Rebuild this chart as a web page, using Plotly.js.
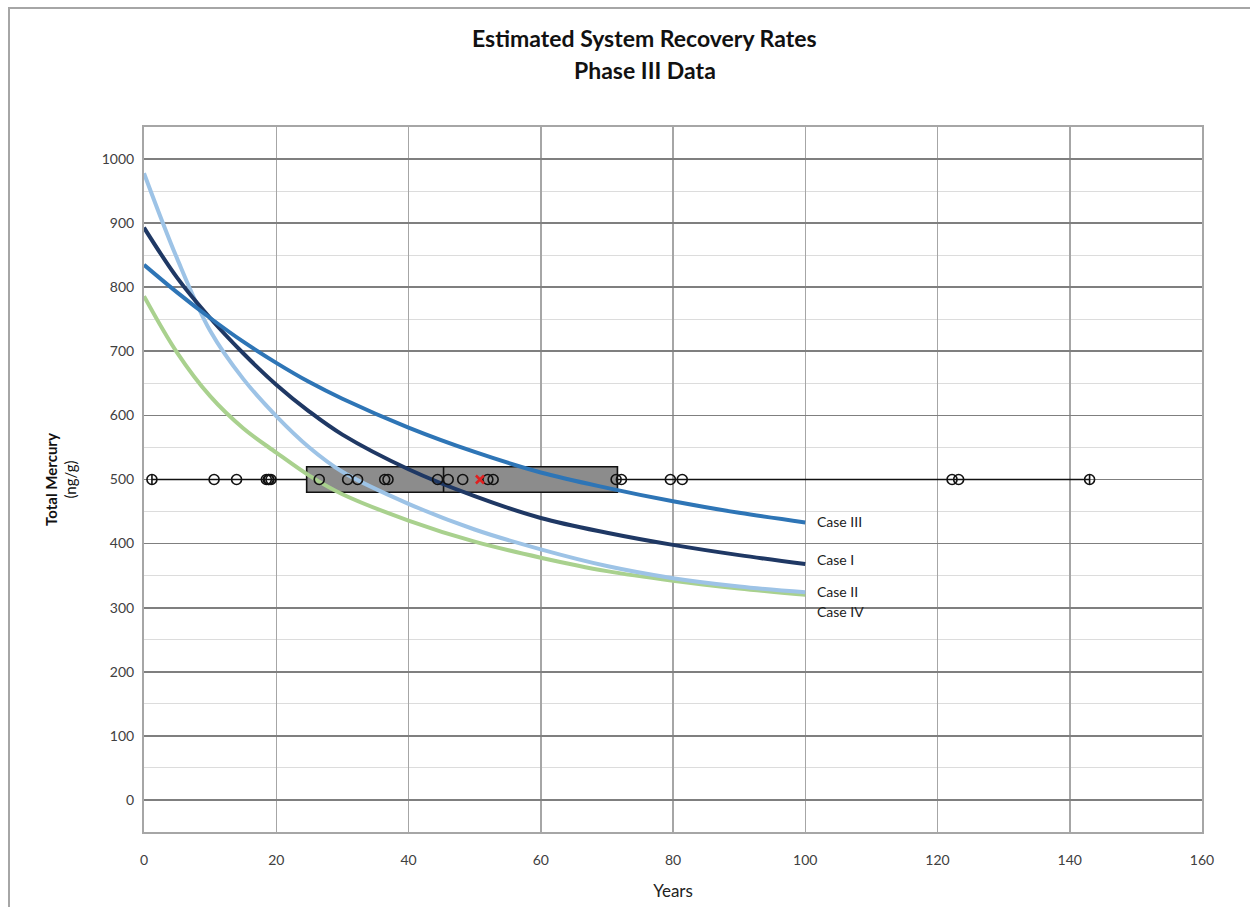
<!DOCTYPE html>
<html>
<head>
<meta charset="utf-8">
<script src="https://cdn.plot.ly/plotly-3.0.1.min.js"></script>
<style>
html,body{margin:0;padding:0;background:#fff;}
#chart{width:1250px;height:907px;position:relative;}
#frame{position:absolute;left:8px;top:7px;width:1250px;height:910px;border-top:2px solid #a6a6a6;border-left:2px solid #a6a6a6;pointer-events:none;}
</style>
</head>
<body>
<div id="chart"></div>
<div id="frame"></div>
<script>
// Curve sample years
const years = [0, 5, 10, 15, 20, 25, 30, 40, 50, 60, 70, 80, 90, 100];
const caseI   = [893, 815, 752, 697, 648, 606, 570, 516, 474, 440, 417, 398, 382, 368];
const caseII  = [978, 845, 732, 657, 599, 550, 512, 462, 422, 391, 365, 346, 333, 324];
const caseIII = [835, 792, 752, 715, 682, 652, 626, 581, 543, 511, 487, 466, 448, 433];
const caseIV  = [786, 698, 630, 580, 542, 506, 477, 436, 403, 378, 357, 342, 330, 320];

const caseNames  = ["Case I", "Case II", "Case III", "Case IV"];
const caseLabelY = [375, 325, 434, 294];

// Observed recovery times (years) plotted at 500 ng/g
const obsYears = [1.2, 10.6, 14.0, 18.5, 18.8, 18.9, 19.2, 26.5, 30.8, 32.3, 36.4, 36.9,
                  44.4, 46.0, 48.2, 52.0, 52.8, 71.4, 72.2, 79.6, 81.4, 122.2, 123.2, 143.0];
const obsLevel = 500;

// Box-and-whisker statistics
const boxQ1 = [24.6], boxMedian = [45.3], boxQ3 = [71.6];
const boxLow = [1.2], boxHigh = [143.0], boxMean = [50.8];

const titleLines = ["Estimated System Recovery Rates", "Phase III Data"];

const colors = ["#1f3864", "#9dc3e6", "#2e75b6", "#a9d18e"];
const series = [caseI, caseII, caseIII, caseIV];

const FONT = "Lato, 'Open Sans', sans-serif";
const traces = [];

traces.push({
  type: "box", orientation: "h",
  y: [obsLevel],
  q1: boxQ1, median: boxMedian, q3: boxQ3,
  lowerfence: boxLow, upperfence: boxHigh,
  width: 40, whiskerwidth: 0.35,
  fillcolor: "#8c8c8c",
  line: {color: "#111", width: 1.6},
  boxpoints: false,
  hoverinfo: "skip", showlegend: false
});

// draw curves in order: IV, II, I, III
[3, 1, 0, 2].forEach(i => {
  traces.push({
    type: "scatter", mode: "lines",
    x: years, y: series[i],
    line: {color: colors[i], width: 4, shape: "spline", smoothing: 1},
    name: caseNames[i], showlegend: false
  });
});

traces.push({
  type: "scatter", mode: "markers",
  x: obsYears, y: obsYears.map(() => obsLevel),
  marker: {symbol: "circle-open", size: 10, color: "#111", line: {width: 1.6, color: "#111"}},
  showlegend: false
});

traces.push({
  type: "scatter", mode: "markers",
  x: boxMean, y: [obsLevel],
  marker: {symbol: "x-thin-open", size: 8, color: "#e02020", line: {width: 2.5, color: "#e02020"}},
  showlegend: false
});

const annotations = caseNames.map((n, i) => ({
  x: years[years.length - 1] + 1.5, y: caseLabelY[i],
  xref: "x", yref: "y", text: n, showarrow: false,
  xanchor: "left", yanchor: "middle",
  font: {family: FONT, size: 14, color: "#222"}
}));

// title lines
const titleY = [1.1262, 1.0809];
titleLines.forEach((t, i) => {
  annotations.push({
    x: 0.4735, y: titleY[i], xref: "paper", yref: "paper",
    text: "<b>" + t + "</b>", showarrow: false,
    xanchor: "center", yanchor: "middle",
    font: {family: FONT, size: 23, color: "#111"}
  });
});

const layout = {
  width: 1250, height: 907,
  margin: {l: 144, r: 48, t: 127, b: 75},
  paper_bgcolor: "#fff", plot_bgcolor: "#fff",
  font: {family: FONT, color: "#404040"},
  xaxis: {
    range: [0, 160], dtick: 20, tick0: 0,
    showgrid: true, gridcolor: "#a6a6a6", gridwidth: 1.5,
    zeroline: false, showline: true, mirror: true, linecolor: "#a6a6a6", linewidth: 2,
    ticks: "", ticklabelstandoff: 14,
    tickfont: {family: FONT, size: 14, color: "#404040"},
    title: {text: "Years", font: {family: FONT, size: 17, color: "#222"}, standoff: 18}
  },
  yaxis: {
    range: [-50, 1050], dtick: 100, tick0: 0,
    showgrid: true, gridcolor: "#7f7f7f", gridwidth: 1.8,
    minor: {dtick: 50, showgrid: true, gridcolor: "#dcdcdc", gridwidth: 1},
    zeroline: false, showline: true, mirror: true, linecolor: "#a6a6a6", linewidth: 2,
    ticks: "", ticklabelstandoff: 5,
    tickvals: [0,100,200,300,400,500,600,700,800,900,1000],
    tickfont: {family: FONT, size: 14, color: "#404040"},
    title: {text: "<b>Total Mercury</b><br>(ng/g)", font: {family: FONT, size: 15, color: "#111"}, standoff: 21}
  },
  annotations: annotations,
  showlegend: false
};

Plotly.newPlot("chart", traces, layout, {displayModeBar: false, staticPlot: true});
</script>
</body>
</html>
